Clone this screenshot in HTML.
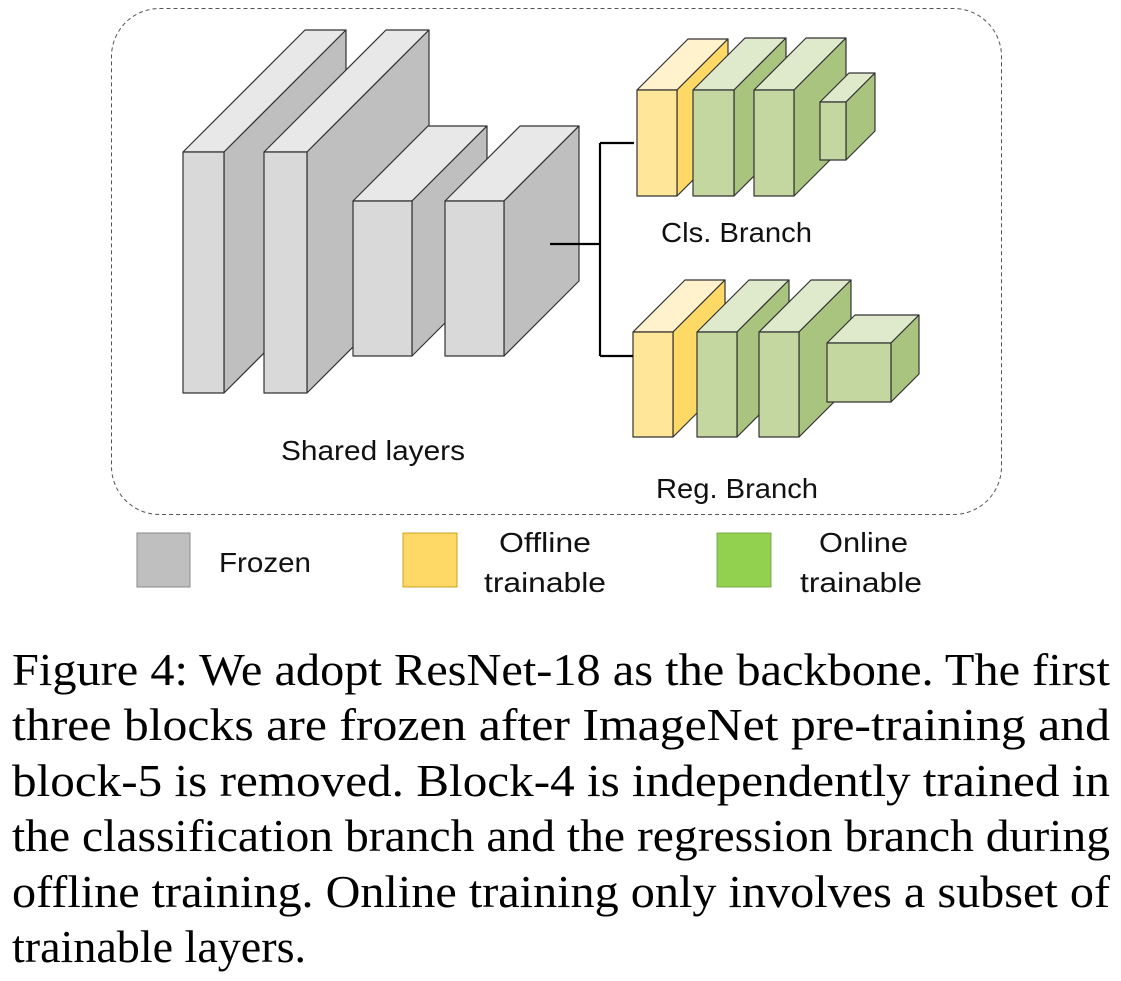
<!DOCTYPE html>
<html><head><meta charset="utf-8"><style>
html,body{margin:0;padding:0;background:#fff;}
svg{display:block;}
.s{font-family:"Liberation Sans",sans-serif;font-size:28px;fill:#111;}
.c{font-family:"Liberation Serif",serif;font-size:46px;fill:#000;}
</style></head><body>
<svg id="g" width="1121" height="981" viewBox="0 0 1121 981" xmlns="http://www.w3.org/2000/svg">
<rect x="111.5" y="8.5" width="890" height="506" rx="48" ry="48" fill="none" stroke="#555" stroke-width="1" stroke-dasharray="4,3"/>
<g id="boxes" stroke="#333" stroke-width="1.2" stroke-linejoin="round"></g>
<path d="M550 244 H600 M600 143 V356 M600 143 H634 M600 356 H633" stroke="#000" stroke-width="2.2" fill="none"/>
<text class="s" x="281" y="460" textLength="184" lengthAdjust="spacingAndGlyphs">Shared layers</text>
<text class="s" x="661" y="242" textLength="151" lengthAdjust="spacingAndGlyphs">Cls. Branch</text>
<text class="s" x="656" y="498" textLength="162" lengthAdjust="spacingAndGlyphs">Reg. Branch</text>
<rect x="137" y="533" width="53" height="54" fill="#bfbfbf" stroke="#888"/>
<rect x="403" y="533" width="54" height="54" fill="#ffd966" stroke="#bf9000" stroke-width="0.8"/>
<rect x="717" y="533" width="54" height="54" fill="#92d050" stroke="#6a9a3a" stroke-width="0.8"/>
<text class="s" x="219" y="572" textLength="92" lengthAdjust="spacingAndGlyphs">Frozen</text>
<text class="s" x="499" y="552" textLength="92" lengthAdjust="spacingAndGlyphs">Offline</text>
<text class="s" x="484" y="592" textLength="122" lengthAdjust="spacingAndGlyphs">trainable</text>
<text class="s" x="819" y="552" textLength="89" lengthAdjust="spacingAndGlyphs">Online</text>
<text class="s" x="800" y="592" textLength="122" lengthAdjust="spacingAndGlyphs">trainable</text>
<text class="c" x="12" y="685" textLength="1098" lengthAdjust="spacingAndGlyphs">Figure 4:  We adopt ResNet-18 as the backbone.  The first</text>
<text class="c" x="12" y="740" textLength="1098" lengthAdjust="spacingAndGlyphs">three blocks are frozen after ImageNet pre-training and</text>
<text class="c" x="12" y="796" textLength="1098" lengthAdjust="spacingAndGlyphs">block-5 is removed.  Block-4 is independently trained in</text>
<text class="c" x="12" y="851" textLength="1098" lengthAdjust="spacingAndGlyphs">the classification branch and the regression branch during</text>
<text class="c" x="12" y="907" textLength="1098" lengthAdjust="spacingAndGlyphs">offline training.  Online training only involves a subset of</text>
<text class="c" x="12" y="962" textLength="294" lengthAdjust="spacingAndGlyphs">trainable layers.</text>
</svg>
<script>
var G=document.getElementById('boxes');
var gray=['#d9d9d9','#e8e8e8','#bfbfbf'],yel=['#ffe699','#fff2cc','#ffd966'],grn=['#c5d7a0','#dfe9cc','#a9c47f'];
function box(x1,x2,y1,y2,d,c){
 var s='';
 s+='<polygon points="'+x1+','+y1+' '+(x1+d)+','+(y1-d)+' '+(x2+d)+','+(y1-d)+' '+x2+','+y1+'" fill="'+c[1]+'"/>';
 s+='<polygon points="'+x2+','+y1+' '+(x2+d)+','+(y1-d)+' '+(x2+d)+','+(y2-d)+' '+x2+','+y2+'" fill="'+c[2]+'"/>';
 s+='<rect x="'+x1+'" y="'+y1+'" width="'+(x2-x1)+'" height="'+(y2-y1)+'" fill="'+c[0]+'"/>';
 G.insertAdjacentHTML('beforeend',s);
}
box(183,224,152,393,122,gray);
box(264,307,152,393,122,gray);
box(353,412,201,356,75,gray);
box(445,504,201,356,75,gray);
box(637,677,90,196,51,yel);
box(693,734,90,196,52,grn);
box(754,794,90,196,52,grn);
box(820,846,102,160,29,grn);
box(633,673,332,437,52,yel);
box(697,737,332,437,52,grn);
box(759,799,332,437,52,grn);
box(827,891,343,402,28,grn);
</script>
</body></html>
